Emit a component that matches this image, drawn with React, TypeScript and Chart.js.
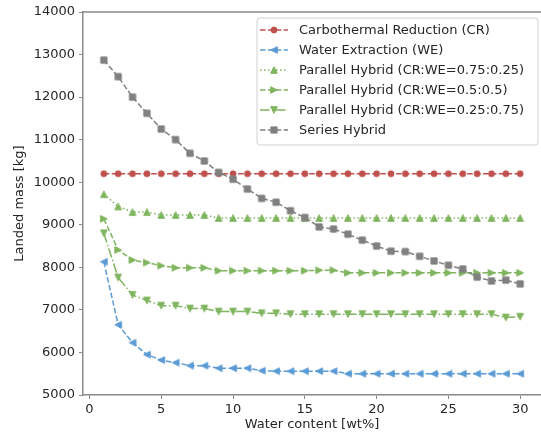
import React, { useEffect, useRef } from 'react';
import { Chart, registerables } from 'chart.js';

Chart.register(...registerables);

// ---------------- data ----------------
const waterContent = [1, 2, 3, 4, 5, 6, 7, 8, 9, 10, 11, 12, 13, 14, 15, 16, 17, 18, 19, 20, 21, 22, 23, 24, 25, 26, 27, 28, 29, 30];

const carbothermal = [10200, 10200, 10200, 10200, 10200, 10200, 10200, 10200, 10200, 10200, 10200, 10200, 10200, 10200, 10200, 10200, 10200, 10200, 10200, 10200, 10200, 10200, 10200, 10200, 10200, 10200, 10200, 10200, 10200, 10200];

const waterExtraction = [8130, 6650, 6230, 5950, 5820, 5760, 5690, 5690, 5630, 5630, 5630, 5570, 5560, 5560, 5560, 5560, 5560, 5500, 5500, 5500, 5500, 5500, 5500, 5500, 5500, 5500, 5500, 5500, 5500, 5500];

const parallel75 = [9720, 9430, 9300, 9300, 9230, 9230, 9230, 9230, 9160, 9160, 9160, 9160, 9160, 9160, 9160, 9160, 9160, 9160, 9160, 9160, 9160, 9160, 9160, 9160, 9160, 9160, 9160, 9160, 9160, 9160];

const parallel50 = [9140, 8410, 8170, 8110, 8040, 7990, 7990, 7990, 7920, 7920, 7920, 7920, 7920, 7920, 7920, 7930, 7930, 7870, 7870, 7870, 7870, 7870, 7870, 7870, 7870, 7870, 7870, 7870, 7870, 7870];

const parallel25 = [8800, 7760, 7350, 7220, 7100, 7100, 7030, 7030, 6960, 6960, 6960, 6920, 6920, 6900, 6900, 6900, 6900, 6900, 6900, 6900, 6900, 6900, 6900, 6900, 6900, 6900, 6900, 6900, 6820, 6840];

const seriesHybrid = [12870, 12480, 12000, 11620, 11250, 11000, 10680, 10500, 10230, 10070, 9840, 9620, 9530, 9330, 9170, 8950, 8900, 8780, 8640, 8500, 8380, 8370, 8260, 8150, 8050, 7960, 7770, 7680, 7700, 7610];

const xTicks = [0, 5, 10, 15, 20, 25, 30];
const yTicks = [5000, 6000, 7000, 8000, 9000, 10000, 11000, 12000, 13000, 14000];

const seriesLabels = [
  'Carbothermal Reduction (CR)',
  'Water Extraction (WE)',
  'Parallel Hybrid (CR:WE=0.75:0.25)',
  'Parallel Hybrid (CR:WE=0.5:0.5)',
  'Parallel Hybrid (CR:WE=0.25:0.75)',
  'Series Hybrid',
];
const seriesValues = [carbothermal, waterExtraction, parallel75, parallel50, parallel25, seriesHybrid];

// ---------------- styles ----------------
const RED = '#c0504d';
const BLUE = '#5b9bd5';
const GREEN = '#7fb55e';
const GRAY = '#808080';
const SPINE = '#8a8a8a';
const TEXT = '#262626';
const FONT = "'DejaVu Sans', sans-serif";

const DASHED = [5.5, 2.4];
const DOTTED = [1.5, 2.5];
const DASHDOT = [9.6, 2.4, 1.5, 2.4];

const seriesStyles = [
  { color: RED, dash: DASHED, marker: 'circle' },
  { color: BLUE, dash: DASHED, marker: 'left' },
  { color: GREEN, dash: DOTTED, marker: 'up' },
  { color: GREEN, dash: DASHED, marker: 'right' },
  { color: GREEN, dash: DASHDOT, marker: 'down' },
  { color: GRAY, dash: DASHED, marker: 'square' },
];

function makeMarker(shape: string, color: string): HTMLCanvasElement {
  const c = document.createElement('canvas');
  c.width = 12;
  c.height = 12;
  const ctx = c.getContext('2d') as CanvasRenderingContext2D;
  ctx.fillStyle = color;
  ctx.strokeStyle = color;
  ctx.lineWidth = 1;
  ctx.lineJoin = 'miter';
  const cx = 6;
  const cy = 6;
  const s = 3.3;
  ctx.beginPath();
  switch (shape) {
    case 'circle':
      ctx.arc(cx, cy, 3, 0, Math.PI * 2);
      break;
    case 'square':
      ctx.rect(cx - 3.1, cy - 3.1, 6.2, 6.2);
      break;
    case 'up':
      ctx.moveTo(cx, cy - s);
      ctx.lineTo(cx - s, cy + s);
      ctx.lineTo(cx + s, cy + s);
      ctx.closePath();
      break;
    case 'down':
      ctx.moveTo(cx, cy + s);
      ctx.lineTo(cx - s, cy - s);
      ctx.lineTo(cx + s, cy - s);
      ctx.closePath();
      break;
    case 'left':
      ctx.moveTo(cx - s, cy);
      ctx.lineTo(cx + s, cy - s);
      ctx.lineTo(cx + s, cy + s);
      ctx.closePath();
      break;
    case 'right':
      ctx.moveTo(cx + s, cy);
      ctx.lineTo(cx - s, cy - s);
      ctx.lineTo(cx - s, cy + s);
      ctx.closePath();
      break;
  }
  ctx.fill();
  ctx.stroke();
  return c;
}

const frameAndLegend = {
  id: 'frameAndLegend',
  afterDraw(chart: any) {
    const ctx = chart.ctx as CanvasRenderingContext2D;
    const area = chart.chartArea;
    ctx.save();
    // top spine
    ctx.strokeStyle = SPINE;
    ctx.lineWidth = 1.5;
    ctx.beginPath();
    ctx.moveTo(area.left - 0.75, area.top);
    ctx.lineTo(area.right, area.top);
    ctx.stroke();

    // legend
    const bw = 281;
    const bh = 127;
    const bx = area.right - bw - 3;
    const by = area.top + 6;
    const r = 3;
    ctx.beginPath();
    ctx.moveTo(bx + r, by);
    ctx.lineTo(bx + bw - r, by);
    ctx.arcTo(bx + bw, by, bx + bw, by + r, r);
    ctx.lineTo(bx + bw, by + bh - r);
    ctx.arcTo(bx + bw, by + bh, bx + bw - r, by + bh, r);
    ctx.lineTo(bx + r, by + bh);
    ctx.arcTo(bx, by + bh, bx, by + bh - r, r);
    ctx.lineTo(bx, by + r);
    ctx.arcTo(bx, by, bx + r, by, r);
    ctx.closePath();
    ctx.fillStyle = 'rgba(255,255,255,0.8)';
    ctx.fill();
    ctx.strokeStyle = '#d0d0d0';
    ctx.lineWidth = 1;
    ctx.stroke();

    chart.data.datasets.forEach((ds: any, i: number) => {
      const y = by + 12 + i * 20;
      ctx.save();
      ctx.strokeStyle = ds.borderColor;
      ctx.lineWidth = 1.5;
      ctx.setLineDash(ds.borderDash || []);
      ctx.beginPath();
      ctx.moveTo(bx + 3, y);
      ctx.lineTo(bx + 31, y);
      ctx.stroke();
      ctx.restore();
      const img = ds.pointStyle as HTMLCanvasElement;
      ctx.drawImage(img, bx + 17 - img.width / 2, y - img.height / 2);
      ctx.fillStyle = TEXT;
      ctx.font = `13px ${FONT}`;
      ctx.textBaseline = 'middle';
      ctx.textAlign = 'left';
      ctx.fillText(ds.label, bx + 42, y + 1);
    });
    ctx.restore();
  },
};

export default function App() {
  const canvasRef = useRef<HTMLCanvasElement | null>(null);

  useEffect(() => {
    const canvas = canvasRef.current;
    if (!canvas) return;
    const datasets = seriesValues.map((vals, i) => {
      const st = seriesStyles[i];
      return {
        label: seriesLabels[i],
        data: waterContent.map((x, j) => ({ x, y: vals[j] })),
        borderColor: st.color,
        backgroundColor: st.color,
        borderWidth: 1.5,
        borderDash: st.dash,
        pointStyle: makeMarker(st.marker, st.color),
        pointRadius: 4,
        pointHoverRadius: 4,
        tension: 0,
        fill: false,
        order: seriesValues.length - i,
      };
    });

    const chart = new Chart(canvas, {
      type: 'line',
      data: { datasets } as any,
      options: {
        responsive: false,
        animation: false,
        events: [],
        layout: { autoPadding: false, padding: { top: 12, right: 0, bottom: 0, left: 0 } },
        plugins: {
          legend: { display: false },
          tooltip: { enabled: false },
        },
        scales: {
          x: {
            type: 'linear',
            min: -0.45,
            max: 31.45,
            afterBuildTicks: (scale: any) => {
              scale.ticks = xTicks.map((v) => ({ value: v }));
            },
            afterFit: (scale: any) => {
              scale.height = 42;
              scale.paddingLeft = 0;
              scale.paddingRight = 0;
            },
            ticks: {
              font: { family: FONT, size: 13 },
              color: TEXT,
              padding: 3,
              maxRotation: 0,
              autoSkip: false,
              callback: (v: any) => String(v),
            },
            grid: {
              drawOnChartArea: false,
              drawTicks: true,
              tickLength: 4,
              color: SPINE,
              lineWidth: 1,
            },
            border: { display: true, color: SPINE, width: 1.5 },
            title: {
              display: true,
              text: 'Water content [wt%]',
              font: { family: FONT, size: 13 },
              color: TEXT,
              padding: { top: 0, bottom: 5 },
            },
          },
          y: {
            type: 'linear',
            min: 5000,
            max: 14000,
            afterBuildTicks: (scale: any) => {
              scale.ticks = yTicks.map((v) => ({ value: v }));
            },
            afterFit: (scale: any) => {
              scale.width = 83;
            },
            ticks: {
              font: { family: FONT, size: 13 },
              color: TEXT,
              padding: 4,
              autoSkip: false,
              callback: (v: any) => String(v),
            },
            grid: {
              drawOnChartArea: false,
              drawTicks: true,
              tickLength: 4,
              color: SPINE,
              lineWidth: 1,
            },
            border: { display: true, color: SPINE, width: 1.5 },
            title: {
              display: true,
              text: 'Landed mass [kg]',
              font: { family: FONT, size: 13 },
              color: TEXT,
              padding: { top: 12, bottom: 0 },
            },
          },
        },
      },
      plugins: [frameAndLegend],
    });
    return () => chart.destroy();
  }, []);

  return (
    <div style={{ position: 'fixed', left: 0, top: 0, width: 541, height: 437, background: '#fff' }}>
      <canvas ref={canvasRef} width={541} height={437} style={{ display: 'block' }} />
    </div>
  );
}
